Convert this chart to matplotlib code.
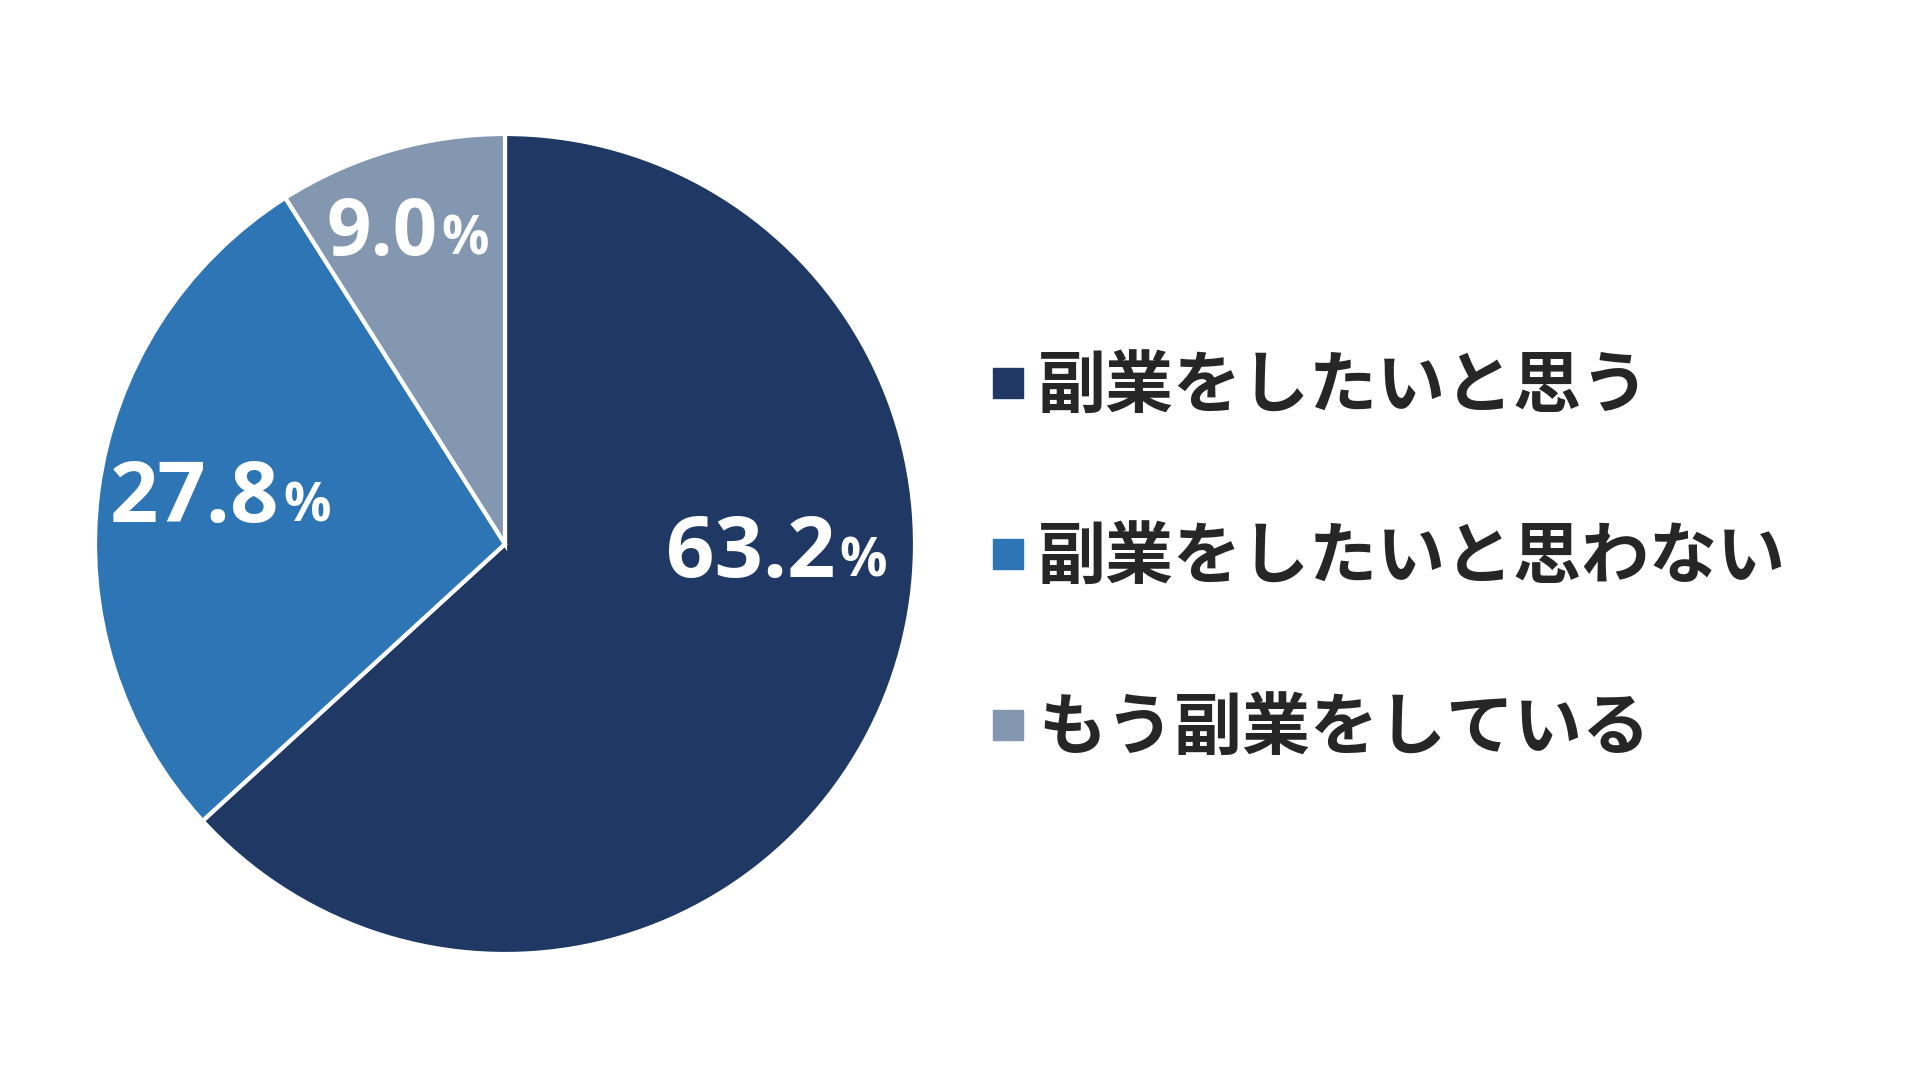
import matplotlib
matplotlib.use("Agg")
import matplotlib.pyplot as plt
from matplotlib.lines import Line2D

plt.rcParams['font.family'] = ['Noto Sans CJK JP', 'DejaVu Sans']

# data
categories = ['副業をしたいと思う', '副業をしたいと思わない', 'もう副業をしている']
shares = [63.2, 27.8, 9.0]
colors = ['#203864', '#2E75B6', '#8497B0']

# label anchor (boundary between number and "%") in pie units, and sizes
label_pos = [(0.805, -0.080), (-0.551, 0.054), (-0.165, 0.705)]
label_size = [61, 61, 56]

fig = plt.figure(figsize=(19.2, 10.8), dpi=100)
fig.patch.set_facecolor('white')

# pie: centre (505, 544) px, radius 410 px
cx, cy, r = 505, 544, 410
ax = fig.add_axes([(cx - r) / 1920, (1080 - cy - r) / 1080, 2 * r / 1920, 2 * r / 1080])
wedges, _ = ax.pie(shares, colors=colors, startangle=90, counterclock=False,
                   radius=1.0,
                   wedgeprops=dict(edgecolor='white', linewidth=3))
ax.set_xlim(-1, 1)
ax.set_ylim(-1, 1)
ax.set_aspect('equal')
ax.axis('off')

num_font = ['Open Sans', 'DejaVu Sans']
for val, (x, y), fs in zip(shares, label_pos, label_size):
    ax.text(x, y, f'{val:.1f}', ha='right', va='baseline', color='white',
            fontsize=fs, fontweight='bold', family=num_font)
    ax.text(x + 0.01, y, '%', ha='left', va='baseline', color='white',
            fontsize=38, fontweight='bold', family=num_font)

handles = [Line2D([], [], marker='s', linestyle='none', markersize=21,
                  markerfacecolor=c, markeredgecolor=c) for c in colors]
leg = fig.legend(handles, categories, loc='center left',
                 bbox_to_anchor=(0.516, 0.483), frameon=False,
                 fontsize=49, labelspacing=1.5, handlelength=0.5,
                 handletextpad=0.2, borderpad=0, borderaxespad=0)
for t in leg.get_texts():
    t.set_color('#262626')
    t.set_fontweight('bold')

fig.savefig('out.png', dpi=100, facecolor='white')
